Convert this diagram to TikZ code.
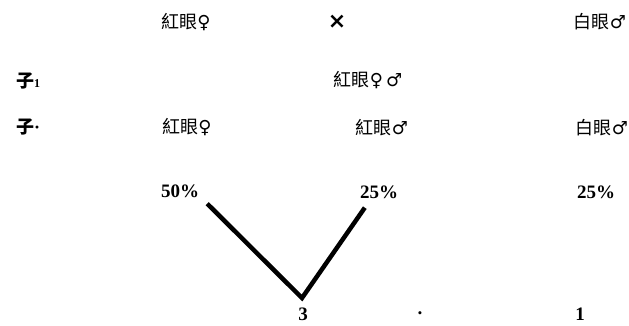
\documentclass[tikz,border=0pt]{standalone}
\usepackage{fontspec}
\setmainfont{Liberation Serif}
\newfontfamily\cjk{Noto Sans CJK TC}
\newfontfamily\sym{DejaVu Sans}
\usetikzlibrary{positioning}
\newcommand{\fem}{{\sym ♀}}
\newcommand{\mal}{{\sym ♂}}

\begin{document}
\begin{tikzpicture}[
    x=1pt, y=-1pt,
    eye/.style={font=\cjk\fontsize{18}{20}\selectfont, inner sep=1pt},
    gen/.style={font=\cjk\bfseries\fontsize{18}{20}\selectfont, inner sep=1pt, anchor=west},
    pct/.style={font=\bfseries\fontsize{19}{21}\selectfont, inner sep=1pt},
    vline/.style={line width=4.5pt}
]
\useasboundingbox (0,0) rectangle (629,325);

% parents
\node[eye] (p1f) at (186,22) {紅眼\fem};
\node[font=\sym\bfseries\fontsize{22}{24}\selectfont] (cross) at (337,22) {×};
\node[eye] (p1m) at (600,22) {白眼\mal};

% first generation
\node[gen] (f1lab) at (15,81) {子{\rmfamily\bfseries\fontsize{12}{12}\selectfont 1}};
\node[eye] (f1) at (368,80) {紅眼\fem\,\mal};

% second generation
\node[gen] (f2lab) at (15,127) {子{\rmfamily ·}};
\node[eye] (f2a) at (187,127) {紅眼\fem};
\node[eye] (f2b) at (382,128) {紅眼\mal};
\node[eye] (f2c) at (602,128) {白眼\mal};

\node[pct] (pa) at (180,191) {50\%};
\node[pct] (pb) at (379,192) {25\%};
\node[pct] (pc) at (596,192) {25\%};

% ratio
\node[pct] (three) at (303,314) {3};
\node[pct] (dot) at (420,316) {·};
\node[pct] (one) at (580,314) {1};
\coordinate (vtip) at (302,298);
\draw[vline] ([shift={(7,5)}]pa.south east) -- (vtip) -- ([shift={(6,8)}]pb.south west);

\end{tikzpicture}
\end{document}
